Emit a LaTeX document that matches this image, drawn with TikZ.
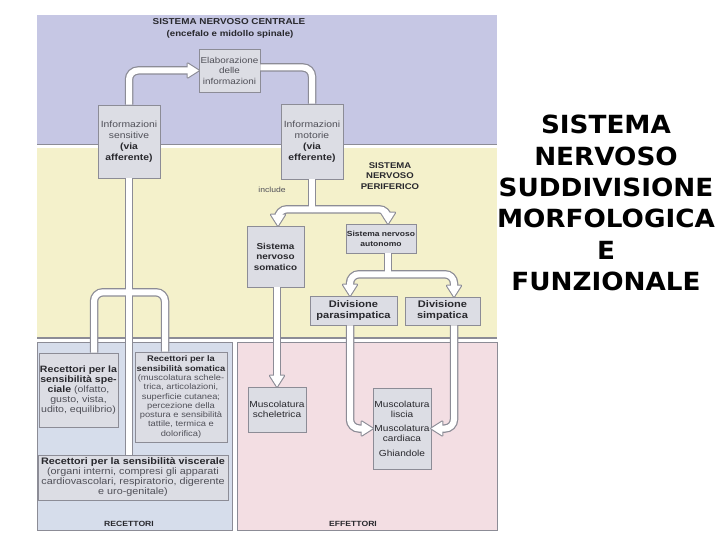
\documentclass[tikz,border=0pt]{standalone}
\usepackage{fontspec}
\setmainfont{Liberation Sans}[FakeStretch=1.15]
\newfontfamily\titlefont{DejaVu Sans}[FakeStretch=1.05]
\usetikzlibrary{positioning}

\definecolor{sncblue}{RGB}{198,199,228}
\definecolor{snpyellow}{RGB}{244,241,203}
\definecolor{recblue}{RGB}{214,221,235}
\definecolor{effpink}{RGB}{243,222,227}
\definecolor{boxgray}{RGB}{220,221,228}
\definecolor{linegray}{RGB}{140,140,150}
\definecolor{txtgray}{RGB}{80,80,88}
\definecolor{txtdark}{RGB}{40,40,45}

\newcommand\bt[1]{{\bfseries\color{txtdark}#1}}

\tikzset{
  sepline/.style={draw=linegray, line width=1.2pt},
  box/.style={draw=linegray, fill=boxgray, line width=0.6pt, inner sep=1pt, align=center,
    font=\fontsize{8.6}{10.5}\selectfont, text=txtgray},
  heading/.style={font=\fontsize{8.3}{10.5}\selectfont\bfseries, text=txtdark, align=center},
  pipeout/.style={draw=linegray, line width=8.5pt, rounded corners=9pt},
  pipein/.style={draw=white, line width=6pt, rounded corners=9pt},
  tipout/.pic={\filldraw[linegray, line width=2.2pt, line join=round] (0,0) -- (-11,7) -- (-11,-7) -- cycle;},
  tipin/.pic={\fill[white] (0,0) -- (-11,7) -- (-11,-7) -- cycle;},
}

% hollow connectors, drawn twice (outline, then white core)
\newcommand\pipenet[1]{%
  \draw[#1, shorten >=7pt] (sens.north) |- (elab.west);
  \draw[#1] (elabout) -| (mot.north);
  \draw[#1] (mot.south) -- (split1);
  \draw[#1, shorten >=7pt] (split1) -| (somin);
  \draw[#1, shorten >=7pt] (split1) -| (autin);
  \draw[#1] (autout) -- (split2);
  \draw[#1, shorten >=7pt] (split2) -| (parain);
  \draw[#1, shorten >=7pt] (split2) -| (simpin);
  \draw[#1, shorten >=7pt] (somout) -- (schel.north);
  \draw[#1, shorten >=7pt] (paraout) |- (lisc.west);
  \draw[#1, shorten >=7pt] (simpout) |- (lisc.east);
  \draw[#1] (sens.south) -- (sens.south |- visc.north);
  \draw[#1] (split3) -| (specin);
  \draw[#1] (split3) -| (somain);
}

\begin{document}
\begin{tikzpicture}[x=1pt, y=-1pt]
\useasboundingbox (0,0) rectangle (720,540);

% regions
\fill[sncblue] (37,15) rectangle (497,145);
\draw[sepline] (37,144.5) -- (497,144.5);
\fill[snpyellow] (37,148) rectangle (497,338);
\draw[sepline] (37,338) -- (497,338);
\filldraw[recblue, draw=linegray, line width=1pt] (37,342) rectangle (232,530);
\filldraw[effpink, draw=linegray, line width=1pt] (237,342) rectangle (497,530);

% labels
\node[heading, font=\fontsize{8.6}{10}\selectfont\bfseries] (snclabel) at (229,22) {SISTEMA NERVOSO CENTRALE};
\node[heading, font=\fontsize{8.4}{10}\selectfont\bfseries] (sncsub) at (230,34) {(encefalo e midollo spinale)};
\node[heading] (snplabel) at (390,176) {SISTEMA\\NERVOSO\\PERIFERICO};
\node[font=\fontsize{7.5}{9}\selectfont, text=txtgray] (include) at (272,190) {include};
\node[heading, font=\fontsize{7.5}{9}\selectfont\bfseries] (reclabel) at (129,524) {RECETTORI};
\node[heading, font=\fontsize{7.5}{9}\selectfont\bfseries] (efflabel) at (353,524) {EFFETTORI};

% boxes
\node[box, minimum width=61, minimum height=43] (elab) at (229.5,70.5) {Elaborazione\\delle\\informazioni};
\node[box, minimum width=62, minimum height=73, font=\fontsize{9}{11}\selectfont] (sens) at (129,141.5) {Informazioni\\sensitive\\\bt{(via}\\\bt{afferente)}};
\node[box, minimum width=62, minimum height=75, font=\fontsize{9}{11}\selectfont] (mot) at (312,141.5) {Informazioni\\motorie\\\bt{(via}\\\bt{efferente)}};
\node[box, minimum width=57, minimum height=61] (som) at (275.5,256.5) {\bt{Sistema}\\\bt{nervoso}\\\bt{somatico}};
\node[box, minimum width=68, minimum height=29, font=\fontsize{7.4}{10}\selectfont] (aut) at (381,238.5) {\bt{Sistema nervoso}\\\bt{autonomo}};
\node[box, minimum width=87, minimum height=29, font=\fontsize{9.6}{11}\selectfont] (para) at (353.5,310.5) {\bt{Divisione}\\\bt{parasimpatica}};
\node[box, minimum width=75, minimum height=28, font=\fontsize{9.6}{11}\selectfont] (simp) at (442.5,311) {\bt{Divisione}\\\bt{simpatica}};
\node[box, minimum width=58, minimum height=45, text=txtdark, font=\fontsize{8.8}{10.5}\selectfont] (schel) at (277,409.5) {Muscolatura\\scheletrica};
\node[box, minimum width=58, minimum height=81, text=txtdark, font=\fontsize{8.8}{10.5}\selectfont] (lisc) at (402,428.5) {Muscolatura\\liscia\\[3pt]Muscolatura\\cardiaca\\[4pt]Ghiandole};
\node[box, minimum width=79, minimum height=74, font=\fontsize{9.2}{10}\selectfont] (spec) at (78.5,390) {\bt{Recettori per la}\\\bt{sensibilità spe-}\\\bt{ciale} (olfatto,\\gusto, vista,\\udito, equilibrio)};
\node[box, minimum width=92, minimum height=90, font=\fontsize{8.1}{9.3}\selectfont] (soma) at (181,397) {\bt{Recettori per la}\\\bt{sensibilità somatica}\\(muscolatura schele-\\trica, articolazioni,\\superficie cutanea;\\percezione della\\postura e sensibilità\\tattile, termica e\\dolorifica)};
\node[box, minimum width=190, minimum height=45, font=\fontsize{9.4}{10}\selectfont] (visc) at (133,477.5) {\bt{Recettori per la sensibilità viscerale}\\(organi interni, compresi gli apparati\\cardiovascolari, respiratorio, digerente\\e uro-genitale)};

% connector end points
\coordinate (elabout) at ([yshift=3pt]elab.east);
\coordinate (split1) at ([yshift=-30pt]mot.south);
\coordinate (somin) at ([xshift=2.5pt]som.north);
\coordinate (autin) at ([xshift=7pt]aut.north);
\coordinate (autout) at ([xshift=7pt]aut.south);
\coordinate (split2) at ([yshift=-21pt]autout);
\coordinate (parain) at ([xshift=-3.5pt]para.north);
\coordinate (simpin) at ([xshift=11.5pt]simp.north);
\coordinate (somout) at ([xshift=1.5pt]som.south);
\coordinate (paraout) at ([xshift=-3.5pt]para.south);
\coordinate (simpout) at ([xshift=11.5pt]simp.south);
\coordinate (split3) at ([yshift=-114pt]sens.south);
\coordinate (specin) at ([xshift=15.5pt]spec.north);
\coordinate (somain) at ([xshift=-16pt]soma.north);

\pipenet{pipeout}
\foreach \tipat/\tipdir in {elab.west/0, somin/-90, autin/-90, parain/-90, simpin/-90, schel.north/-90, lisc.west/0, lisc.east/180}
  \pic[rotate=\tipdir] at (\tipat) {tipout};
\pipenet{pipein}
\foreach \tipat/\tipdir in {elab.west/0, somin/-90, autin/-90, parain/-90, simpin/-90, schel.north/-90, lisc.west/0, lisc.east/180}
  \pic[rotate=\tipdir] at (\tipat) {tipin};

% title
\node[font=\titlefont\bfseries\fontsize{25}{31.3}\selectfont, align=center] (maintitle) at (606,203) {SISTEMA\\NERVOSO\\SUDDIVISIONE\\MORFOLOGICA\\E\\FUNZIONALE};
\end{tikzpicture}
\end{document}
